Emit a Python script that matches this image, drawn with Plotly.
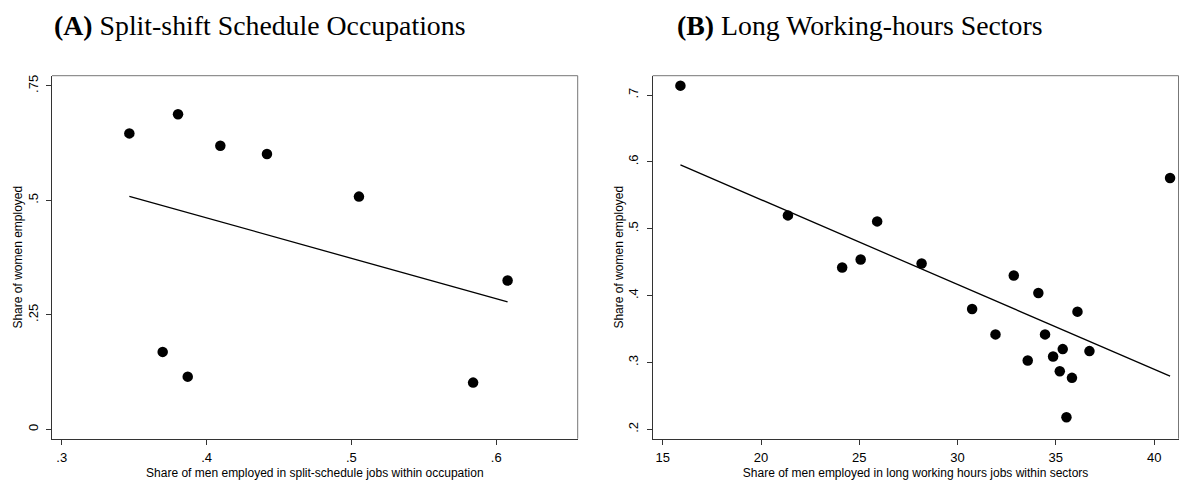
import numpy as np
import plotly.graph_objects as go

# ---------------- Data ----------------
# Panel A: split-shift schedule occupations
a_men_share = [0.3467, 0.3803, 0.4095, 0.4417, 0.3697, 0.3870, 0.5052, 0.6078, 0.5840]
a_women_share = [0.646, 0.688, 0.619, 0.601, 0.169, 0.115, 0.508, 0.325, 0.102]

# Panel B: long working-hours sectors
b_men_share = [15.90, 21.37, 24.13, 25.07, 25.91, 28.17, 32.86, 34.11, 30.74, 36.10,
               31.93, 34.45, 35.35, 36.71, 34.86, 33.57, 35.20, 35.82, 35.54, 40.81]
b_women_share = [0.714, 0.520, 0.442, 0.454, 0.511, 0.448, 0.430, 0.404, 0.380, 0.376,
                 0.342, 0.342, 0.320, 0.317, 0.309, 0.303, 0.287, 0.277, 0.218, 0.576]

a_xticks = [0.3, 0.4, 0.5, 0.6]
a_xtext = [".3", ".4", ".5", ".6"]
a_yticks = [0, 0.25, 0.5, 0.75]
a_ytext = ["0", ".25", ".5", ".75"]
b_xticks = [15, 20, 25, 30, 35, 40]
b_xtext = ["15", "20", "25", "30", "35", "40"]
b_yticks = [0.2, 0.3, 0.4, 0.5, 0.6, 0.7]
b_ytext = [".2", ".3", ".4", ".5", ".6", ".7"]

title_a = "<b>(A)</b> Split-shift Schedule Occupations"
title_b = "<b>(B)</b> Long Working-hours Sectors"
xlab_a = "Share of men employed in split-schedule jobs within occupation"
xlab_b = "Share of men employed in long working hours jobs within sectors"
ylab = "Share of women employed"

W, H = 1180, 482


def fit_line(x, y):
    x = np.asarray(x, float)
    y = np.asarray(y, float)
    b1, b0 = np.polyfit(x, y, 1)
    xs = np.array([x.min(), x.max()])
    return xs, b0 + b1 * xs


fig = go.Figure()

for xs, ys, xa, ya in [(a_men_share, a_women_share, "x", "y"),
                       (b_men_share, b_women_share, "x2", "y2")]:
    fig.add_trace(go.Scatter(x=xs, y=ys, mode="markers", xaxis=xa, yaxis=ya,
                             marker=dict(color="black", size=10.5, line=dict(width=0)),
                             showlegend=False, hoverinfo="x+y"))
    fx, fy = fit_line(xs, ys)
    fig.add_trace(go.Scatter(x=fx, y=fy, mode="lines", xaxis=xa, yaxis=ya,
                             line=dict(color="black", width=1.3),
                             showlegend=False, hoverinfo="skip"))

tick_font = dict(family="Liberation Sans, Arial, sans-serif", size=13, color="black")
title_font = dict(family="Liberation Sans, Arial, sans-serif", size=12, color="black")

def px_x(p):
    return p / W

def px_y(p):
    return 1 - p / H

common_axis = dict(showgrid=False, zeroline=False, showline=True, linecolor="#333",
                   linewidth=1.4, ticks="outside", ticklen=5, tickwidth=1,
                   tickcolor="#333", tickfont=tick_font, mirror=False)

fig.update_layout(
    width=W, height=H,
    margin=dict(l=0, r=0, t=0, b=0),
    paper_bgcolor="white", plot_bgcolor="white",
    xaxis=dict(common_axis, domain=[px_x(52), px_x(577.7)], range=[0.2933, 0.6562],
               tickvals=a_xticks, ticktext=a_xtext, anchor="y", ticklabelstandoff=1,
               title=dict(text=xlab_a, font=title_font, standoff=5)),
    yaxis=dict(common_axis, domain=[px_y(438.7), px_y(75.7)], range=[-0.0205, 0.772],
               tickvals=a_yticks, ticktext=a_ytext, tickangle=-90, anchor="x",
               ticklabelstandoff=3,
               title=dict(text=ylab, font=title_font, standoff=0)),
    xaxis2=dict(common_axis, domain=[px_x(652.7), px_x(1178.5)], range=[14.49, 41.24],
                tickvals=b_xticks, ticktext=b_xtext, anchor="y2", ticklabelstandoff=1,
                title=dict(text=xlab_b, font=title_font, standoff=5)),
    yaxis2=dict(common_axis, domain=[px_y(438.7), px_y(75.7)], range=[0.186, 0.7289],
                tickvals=b_yticks, ticktext=b_ytext, tickangle=-90, anchor="x2",
                ticklabelstandoff=3,
                title=dict(text=ylab, font=title_font, standoff=0)),
)

# light top/right frame lines
for xd, yd in [("x domain", "y domain"), ("x2 domain", "y2 domain")]:
    fig.add_shape(type="line", xref=xd, yref=yd, x0=0, x1=1, y0=1, y1=1,
                  line=dict(color="#777", width=1))
    fig.add_shape(type="line", xref=xd, yref=yd, x0=1, x1=1, y0=0, y1=1,
                  line=dict(color="#777", width=1))

serif = "Palatino Linotype, Book Antiqua, Palatino, Liberation Serif, serif"
fig.add_annotation(text=title_a, x=px_x(259.5), y=px_y(25), xref="paper", yref="paper",
                   xanchor="center", yanchor="middle", showarrow=False,
                   font=dict(family=serif, size=27.8, color="black"))
fig.add_annotation(text=title_b, x=px_x(860), y=px_y(25), xref="paper", yref="paper",
                   xanchor="center", yanchor="middle", showarrow=False,
                   font=dict(family=serif, size=27.8, color="black"))

fig.write_html("out.html")
